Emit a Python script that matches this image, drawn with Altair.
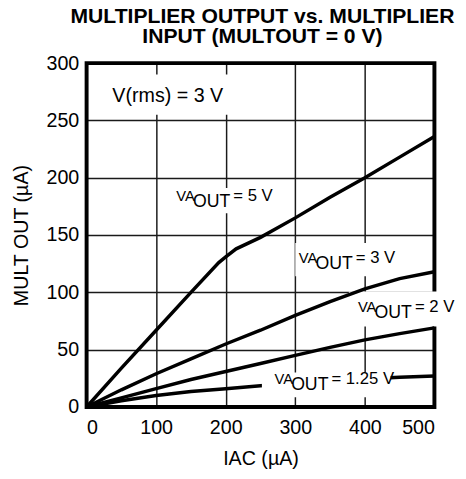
import altair as alt
import pandas as pd

# ---- data ----
va5_x = [0, 50, 100, 150, 190, 200, 215, 250, 300, 350, 400, 450, 500]
va5_y = [0, 34, 67, 100, 126, 131, 138, 148, 165, 183, 200, 218, 236]
iac = [0, 50, 100, 150, 200, 250, 300, 350, 400, 450, 500]
va3_y = [0, 15, 29, 42, 55, 67, 80, 92, 103, 112, 118]
va2_y = [0, 8, 16, 24, 31, 38, 45, 52, 58.6, 64, 69]
va125_y = [0, 5.5, 10, 13.5, 16, 18.5, 20.5, 22.5, 24.5, 26, 27]

x_ticks = [0, 100, 200, 300, 400, 500]
y_ticks = [0, 50, 100, 150, 200, 250, 300]

label_vals = ["= 5 V", "= 3 V", "= 2 V", "= 1.25 V"]
label_x = [129, 305, 390, 270]
label_y = [180, 125.7, 82.9, 20]

note_text = ["V(rms) = 3 V"]
note_x = [37]
note_y = [265.7]

# white label backgrounds (data units)
box_x1 = [10, 123, 300, 377, 252]
box_x2 = [208, 266, 469, 528, 437]
box_y1 = [255, 169, 114, 70.3, 8.6]
box_y2 = [290, 191, 143, 100.7, 30]
box_top = [False, False, False, False, True]

FONT = "Liberation Sans"

curves = pd.concat([
    pd.DataFrame({"x": va5_x, "y": va5_y, "s": "5"}),
    pd.DataFrame({"x": iac, "y": va3_y, "s": "3"}),
    pd.DataFrame({"x": iac, "y": va2_y, "s": "2"}),
    pd.DataFrame({"x": iac, "y": va125_y, "s": "1.25"}),
], ignore_index=True)

boxes = pd.DataFrame({"x": box_x1, "x2": box_x2, "y": box_y1, "y2": box_y2, "top": box_top})
labels = pd.DataFrame({"x": label_x, "y": label_y, "rest": label_vals})
notes = pd.DataFrame({"x": note_x, "y": note_y, "t": note_text})
frame = pd.DataFrame({"x": [x_ticks[0]], "x2": [x_ticks[-1]], "y": [y_ticks[0]], "y2": [y_ticks[-1]]})

xs = alt.Scale(domain=[0, 500], nice=False)
ys = alt.Scale(domain=[0, 300], nice=False)

axis_common = dict(
    labelFont=FONT, labelFontSize=20, labelColor="black",
    titleFont=FONT, titleFontSize=20, titleFontWeight="normal", titleColor="black",
    grid=True, gridColor="#1a1a1a", gridWidth=1.5, ticks=False, tickSize=0,
    domain=False,
)
X_AX = alt.Axis(values=x_ticks, labelPadding=11, titlePadding=12, **axis_common)
Y_AX = alt.Axis(values=y_ticks, labelPadding=8, titlePadding=15, **axis_common)


def X():
    return alt.X("x:Q", scale=xs, title="IAC (µA)", axis=X_AX)


def Y():
    return alt.Y("y:Q", scale=ys, title="MULT OUT (µA)", axis=Y_AX)


curve_layer = alt.Chart(curves).mark_line(color="black", strokeWidth=3.5).encode(
    x=X(), y=Y(), detail="s:N",
)

frame_layer = alt.Chart(frame).mark_rect(fillOpacity=0, stroke="black", strokeWidth=4).encode(
    x=X(), x2="x2:Q", y=Y(), y2="y2:Q",
)


def box_layer(flag):
    return alt.Chart(boxes).transform_filter(alt.datum.top == flag).mark_rect(
        color="white", opacity=1).encode(
        x=X(), x2="x2:Q", y=Y(), y2="y2:Q",
    )


va = alt.Chart(labels).mark_text(font=FONT, fontSize=15, align="left",
                                 baseline="alphabetic", color="black").encode(
    x=X(), y=Y(), text=alt.value("VA"))
out = alt.Chart(labels).mark_text(font=FONT, fontSize=18, align="left",
                                  baseline="alphabetic", color="black", dx=17, dy=6).encode(
    x=X(), y=Y(), text=alt.value("OUT"))
rest = alt.Chart(labels).mark_text(font=FONT, fontSize=17, align="left",
                                   baseline="alphabetic", color="black", dx=58).encode(
    x=X(), y=Y(), text="rest:N")
note = alt.Chart(notes).mark_text(font=FONT, fontSize=20, align="left",
                                  baseline="alphabetic", color="black").encode(
    x=X(), y=Y(), text="t:N")

chart = alt.layer(
    frame_layer, box_layer(False), curve_layer, box_layer(True), va, out, rest, note
).properties(
    width=354, height=350,
    title=alt.TitleParams(
        ["MULTIPLIER OUTPUT vs. MULTIPLIER", "INPUT (MULTOUT = 0 V)"],
        font=FONT, fontSize=21.5, fontWeight="bold", color="black",
        anchor="middle", offset=6, lineHeight=20, dx=2,
    ),
    autosize=alt.AutoSizeParams(type="none"),
    padding={"left": 80, "top": 52, "right": 24, "bottom": 60},
).configure(
    background="white",
    view=alt.ViewConfig(stroke=None),
)

chart.save("out.html", embed_options={"renderer": "svg", "actions": False})
